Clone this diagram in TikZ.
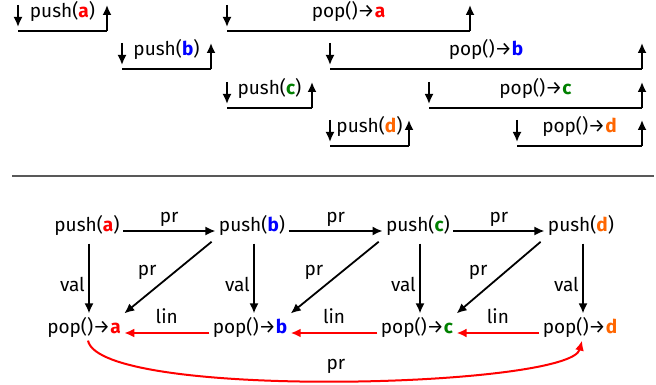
\documentclass[tikz,border=0pt]{standalone}
\usepackage{fontspec}
\setmainfont{Fira Sans}
\usepackage{tikz}
\usetikzlibrary{arrows.meta}

\definecolor{cola}{RGB}{255,0,0}
\definecolor{colb}{RGB}{0,0,255}
\definecolor{colc}{RGB}{0,128,0}
\definecolor{cold}{RGB}{255,102,0}
\newcommand{\ltra}{\textcolor{cola}{\textbf{a}}}
\newcommand{\ltrb}{\textcolor{colb}{\textbf{b}}}
\newcommand{\ltrc}{\textcolor{colc}{\textbf{c}}}
\newcommand{\ltrd}{\textcolor{cold}{\textbf{d}}}

\tikzset{
    tip/.style={-{Latex[length=10pt, width=9pt]}, line width=1.8pt},
    redtip/.style={-{Latex[length=10pt, width=9pt]}, line width=2pt, cola},
    seg/.style={line width=2pt},
}

\begin{document}
\begin{tikzpicture}[x=1pt, y=-1pt, font=\fontsize{19}{22}\selectfont]
    \useasboundingbox (0, 0) rectangle (656, 385);

    % intervals
    \foreach \xa/\xb/\yy/\txt/\nm in {18/107/31/push(\ltra)/ia, 122/211/69/push(\ltrb)/ib,
        227/312/108/push(\ltrc)/ic, 330/409/146/push(\ltrd)/id,
        227/470/31/pop()→\ltra/oa, 330/642/69/pop()→\ltrb/ob,
        429/642/108/pop()→\ltrc/oc, 517/642/146/pop()→\ltrd/od} {
        \draw[seg] (\xa, \yy) -- (\xb, \yy);
        \draw[tip] (\xa, \yy-26) -- (\xa, \yy-4);
        \draw[tip] (\xb, \yy) -- (\xb, \yy-26);
        \node[anchor=base] (\nm) at ({(\xa+\xb)/2}, \yy-13) {\txt};
    }

    \draw[black!65, line width=1.5pt] (12, 176) -- (654, 176);

    % graph
    \node (pusha) at (87, 225) {push(\ltra)};
    \node (pushb) at (252, 225) {push(\ltrb)};
    \node (pushc) at (418, 225) {push(\ltrc)};
    \node (pushd) at (581, 225) {push(\ltrd)};
    \node (popa) at (84, 327) {pop()→\ltra};
    \node (popb) at (250, 327) {pop()→\ltrb};
    \node (popc) at (417, 327) {pop()→\ltrc};
    \node (popd) at (580, 327) {pop()→\ltrd};

    \foreach \p/\q in {pusha/pushb, pushb/pushc, pushc/pushd}
        \draw[tip] (\p.base east) -- node[above] {pr} (\q.base west);
    \foreach \p/\q in {pusha/popa, pushb/popb, pushc/popc, pushd/popd}
        \draw[tip, shorten <=5pt] ([xshift=2pt]\p.south) -- node[left, pos=0.62] {val} ([xshift=2pt]\p.south |- \q.north);
    \foreach \p/\q in {pushb/popa, pushc/popb, pushd/popc}
        \draw[tip, shorten <=5pt] (\p.south west) -- node[above left, pos=0.6] {pr} (\q.north east);
    \foreach \p/\q in {popb/popa, popc/popb, popd/popc}
        \draw[redtip] (\p.base west) -- node[above=5pt, black] {lin} (\q.base east);

    \draw[redtip] ([xshift=4pt]popa.south) .. controls (100, 400) and (570, 388) .. ([xshift=2pt]popd.south);
    \node (prlast) at (336, 366) {pr};
\end{tikzpicture}
\end{document}
